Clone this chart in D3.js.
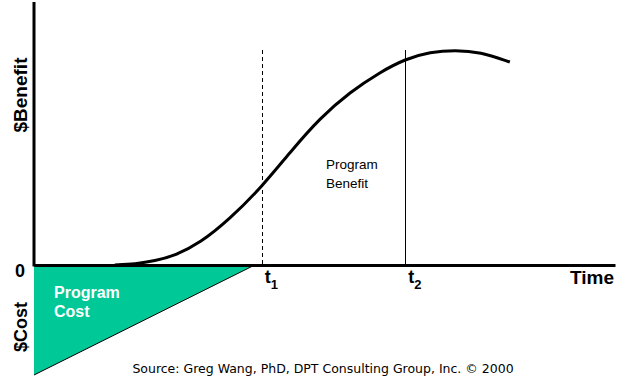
<!DOCTYPE html>
<html>
<head>
<meta charset="utf-8">
<style>
  body { margin: 0; background: #fff; }
  svg { display: block; font-family: "Liberation Sans", Arial, sans-serif; }
</style>
<script src="https://d3js.org/d3.v7.min.js"></script>
</head>
<body>
<svg id="chart"></svg>
<script>
// benefit curve (time, $)
var times = [13.9, 17.4, 20.8, 24.3, 28.6, 33.7, 39.2, 44.1, 49.2, 54.4, 59.6, 63.9, 68.2, 72.5, 76.8, 81.9]
var benefit = [0, 1, 4, 9.5, 22, 46, 78, 113, 147, 173, 193, 206, 213, 215, 213, 203]
// program cost triangle
var costTimes = [0, 38, 0]
var costValues = [0, 0, -110]
// milestones
var milestones = ["1", "2"]
var milestoneTimes = [39.2, 63.9]
var milestoneTop = 215

var w = 620, h = 383

var x = d3.scaleLinear().domain([0, 100]).range([34, 615])
var y = d3.scaleLinear().domain([-110, 263]).range([375, 2])

var svg = d3.select("#chart").attr("width", w).attr("height", h)

// cost triangle
svg.append("path")
  .datum(d3.zip(costTimes, costValues))
  .attr("d", d3.line().x(d => x(d[0])).y(d => y(d[1])))
  .attr("fill", "#00c896")
  .attr("stroke", "#000")
  .attr("stroke-width", 1)

// milestone lines
svg.selectAll(".ms")
  .data(milestoneTimes)
  .enter().append("line")
  .attr("x1", d => Math.round(x(d)) + 0.5)
  .attr("x2", d => Math.round(x(d)) + 0.5)
  .attr("y1", y(milestoneTop))
  .attr("y2", y(0))
  .attr("stroke", "#000")
  .attr("stroke-width", 1)
  .attr("stroke-dasharray", (d, i) => i == 0 ? "4,3" : null)

// benefit curve
svg.append("path")
  .datum(d3.zip(times, benefit))
  .attr("d", d3.line().curve(d3.curveBasis).x(d => x(d[0])).y(d => y(d[1])))
  .attr("fill", "none")
  .attr("stroke", "#000")
  .attr("stroke-width", 3)

// axes
var xAxis = d3.axisBottom(x).tickValues([]).tickSize(0).tickSizeOuter(0)
var gx = svg.append("g").attr("transform", "translate(0," + y(0) + ")").call(xAxis)
gx.select(".domain").attr("stroke-width", 3)

var yAxis = d3.axisLeft(y).tickValues([]).tickSize(0).tickSizeOuter(0)
var gy = svg.append("g").attr("transform", "translate(" + x(0) + ",0)").call(yAxis)
gy.select(".domain").attr("stroke-width", 3).attr("d", "M0," + y(263) + "V" + (y(0) + 1.5))

// labels
svg.append("text").attr("x", 20).attr("y", 277).attr("text-anchor", "middle")
  .attr("font-weight", "bold").attr("font-size", 18).text("0")
svg.append("text").attr("transform", "translate(27,95) rotate(-90)").attr("text-anchor", "middle")
  .attr("font-weight", "bold").attr("font-size", 19).text("$Benefit")
svg.append("text").attr("transform", "translate(27,327) rotate(-90)").attr("text-anchor", "middle")
  .attr("font-weight", "bold").attr("font-size", 18).text("$Cost")
svg.append("text").attr("x", 614).attr("y", 284).attr("text-anchor", "end")
  .attr("font-weight", "bold").attr("font-size", 19).text("Time")

var tl = svg.selectAll(".tl")
  .data(milestones)
  .enter().append("text")
  .attr("x", (d, i) => x(milestoneTimes[i]) + 3)
  .attr("y", 283)
  .attr("font-weight", "bold").attr("font-size", 18)
tl.append("tspan").text("t")
tl.append("tspan").attr("dy", 6).attr("font-size", 13).text(d => d)

var pc = svg.append("text").attr("fill", "#fff").attr("font-weight", "bold").attr("font-size", 16)
pc.append("tspan").attr("x", 54).attr("y", 298).text("Program")
pc.append("tspan").attr("x", 54).attr("y", 317).text("Cost")

var pb = svg.append("text").attr("font-size", 13.5)
pb.append("tspan").attr("x", 326).attr("y", 169).text("Program")
pb.append("tspan").attr("x", 326).attr("y", 188).text("Benefit")

svg.append("text").attr("x", 323).attr("y", 373).attr("text-anchor", "middle")
  .attr("font-family", "DejaVu Sans, sans-serif").attr("font-size", 12.5)
  .text("Source: Greg Wang, PhD, DPT Consulting Group, Inc. \u00a9 2000")
</script>
</body>
</html>
